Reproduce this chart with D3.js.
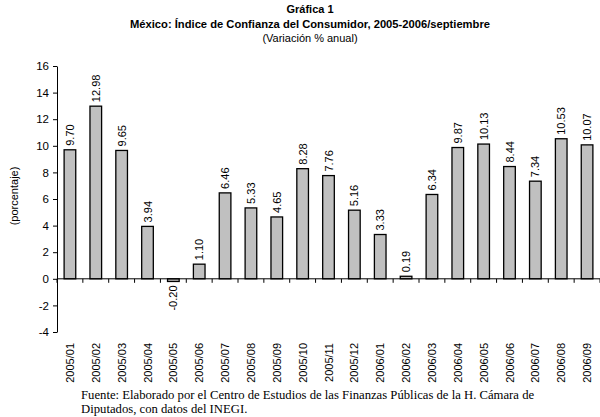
<!DOCTYPE html>
<html><head><meta charset="utf-8">
<script src="https://cdn.jsdelivr.net/npm/d3@7"></script>
<style>body{margin:0;background:#fff}svg{display:block}</style>
</head><body>
<svg id="c" width="600" height="417"></svg>
<script>
const categories = ["2005/01","2005/02","2005/03","2005/04","2005/05","2005/06","2005/07","2005/08","2005/09","2005/10","2005/11","2005/12","2006/01","2006/02","2006/03","2006/04","2006/05","2006/06","2006/07","2006/08","2006/09"];
const values = [9.70,12.98,9.65,3.94,-0.20,1.10,6.46,5.33,4.65,8.28,7.76,5.16,3.33,0.19,6.34,9.87,10.13,8.44,7.34,10.53,10.07];
const yTicks = [-4,-2,0,2,4,6,8,10,12,14,16];
const titleLines = ["Gráfica 1","México: Índice de Confianza del Consumidor, 2005-2006/septiembre","(Variación % anual)"];
const yLabel = "(porcentaje)";
const sourceLines = ["Fuente: Elaborado por el Centro de Estudios de las Finanzas Públicas de la H. Cámara de","Diputados, con datos del INEGI."];

const svg = d3.select("#c");
const sans = "Liberation Sans, Arial, sans-serif";
const serif = "Liberation Serif, Times New Roman, serif";

const x = d3.scaleBand().domain(categories).range([57, 600]).paddingInner(0.55).paddingOuter(0.275);
const y = d3.scaleLinear().domain([-4, 16]).range([332, 66]);

// title
svg.append("text").attr("x",310).attr("y",13).attr("text-anchor","middle")
  .attr("font-family",sans).attr("font-weight","bold").attr("font-size",11).text(titleLines[0]);
svg.append("text").attr("x",310).attr("y",28).attr("text-anchor","middle")
  .attr("font-family",sans).attr("font-weight","bold").attr("font-size",11.2).text(titleLines[1]);
svg.append("text").attr("x",310).attr("y",42).attr("text-anchor","middle")
  .attr("font-family",sans).attr("font-size",11).text(titleLines[2]);

// bars
svg.append("g").selectAll("rect").data(values).join("rect")
  .attr("x",(d,i)=>x(categories[i]))
  .attr("width",x.bandwidth())
  .attr("y",d=>y(Math.max(0,d)))
  .attr("height",d=>Math.abs(y(d)-y(0)))
  .attr("fill","#c0c0c0").attr("stroke","#000").attr("stroke-width",1.3);

// value labels
svg.append("g").selectAll("text").data(values).join("text")
  .attr("transform",(d,i)=>{
    const cx = x(categories[i]) + x.bandwidth()/2 + 4;
    const yy = d>=0 ? y(d)-4 : y(d)+4;
    return `translate(${cx},${yy}) rotate(-90)`;
  })
  .attr("text-anchor",d=>d>=0?"start":"end")
  .attr("font-family",sans).attr("font-size",11).text(d=>d.toFixed(2));

// y axis
const yAxis = d3.axisLeft(y).tickValues(yTicks).tickSize(4).tickSizeOuter(0).tickPadding(4)
  .tickFormat(d=>String(d));
const gy = svg.append("g").attr("transform","translate(57,0)").call(yAxis);
gy.select(".domain").attr("stroke","#000");
gy.selectAll("text").attr("font-family",sans).attr("font-size",11.5).attr("fill","#000");

// x axis at zero: ticks at category boundaries
const bounds = categories.map(c=>x(c)-x.step()*x.paddingInner()/2).concat([600]);
const gx = svg.append("g");
gx.append("line").attr("x1",57).attr("x2",600).attr("y1",y(0)).attr("y2",y(0)).attr("stroke","#000");
gx.selectAll("line.t").data(bounds).join("line").attr("class","t")
  .attr("x1",d=>d).attr("x2",d=>d).attr("y1",y(0)).attr("y2",y(0)+4).attr("stroke","#000");

// category labels
svg.append("g").selectAll("text").data(categories).join("text")
  .attr("transform",c=>`translate(${x(c)+x.bandwidth()/2+4},343) rotate(-90)`)
  .attr("text-anchor","end")
  .attr("font-family",sans).attr("font-size",11).text(c=>c);

// y label
svg.append("text").attr("transform","translate(18,196) rotate(-90)").attr("text-anchor","middle")
  .attr("font-family",sans).attr("font-size",11).text(yLabel);

// source
sourceLines.forEach((t,i)=>{
  svg.append("text").attr("x",81).attr("y",399+i*14).attr("font-family",serif).attr("font-size",12.7).text(t);
});
</script>
</body></html>
